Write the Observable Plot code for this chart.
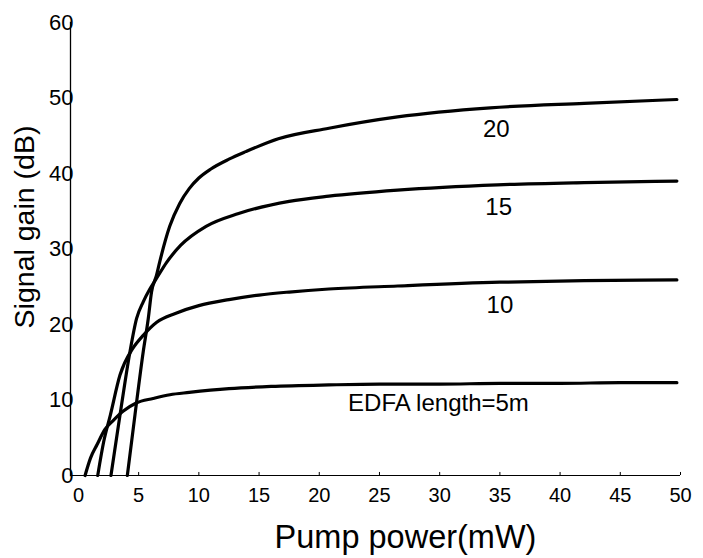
<!DOCTYPE html>
<html><head><meta charset="utf-8">
<script src="https://cdn.jsdelivr.net/npm/d3@7"></script>
<script src="https://cdn.jsdelivr.net/npm/@observablehq/plot@0.6"></script>
<style>body{margin:0;background:#fff}</style>
</head><body><div id="chart"></div>
<script>
// EDFA signal gain vs pump power, for four fibre lengths (m)
const lengths = [5, 10, 15, 20];

const pump5  = [0.55, 1.0, 1.55, 2.2, 2.9, 3.7, 4.8, 6.2, 7.6, 9.2, 12.5, 16, 20.8, 25, 30, 35, 40, 45, 49.7];
const gain5  = [0, 2.3, 4.1, 6.1, 7.3, 8.5, 9.6, 10.2, 10.7, 11.0, 11.5, 11.8, 12.0, 12.1, 12.1, 12.2, 12.2, 12.3, 12.3];

const pump10 = [1.6, 2.1, 2.65, 3.45, 4.5, 5.4, 6.5, 8.1, 10, 12.5, 15, 17.5, 20.8, 26.5, 35, 42, 49.7];
const gain10 = [0, 4.5, 8.0, 13.3, 16.8, 18.6, 20.3, 21.5, 22.5, 23.3, 23.9, 24.3, 24.7, 25.1, 25.6, 25.8, 25.9];

const pump15 = [2.7, 3.46, 4.28, 4.83, 5.38, 5.93, 6.48, 7.31, 8.5, 10.6, 13.3, 17.5, 20.8, 26.5, 34.8, 42, 49.7];
const gain15 = [0, 8.1, 16.4, 20.8, 23.0, 24.7, 26.1, 28.2, 30.5, 33.0, 34.7, 36.3, 37.0, 37.8, 38.5, 38.8, 39.0];

const pump20 = [4.06, 4.7, 5.38, 5.8, 6.07, 6.48, 6.75, 7.58, 8.4, 9.2, 10.0, 11.0, 12.5, 13.9, 16.6, 20.8, 26.5, 34.2, 42, 49.7];
const gain20 = [0, 8.1, 16.4, 20.8, 24.3, 26.5, 28.3, 33.0, 36.0, 38.0, 39.4, 40.6, 41.9, 42.9, 44.6, 46.0, 47.5, 48.7, 49.3, 49.8];

const xTicks = [0, 5, 10, 15, 20, 25, 30, 35, 40, 45, 50];
const yTicks = [0, 10, 20, 30, 40, 50, 60];

// curve annotations
const labelText = ["20", "15", "10", "EDFA length=5m"];
const labelPump = [34.7, 34.9, 35.0, 29.9];
const labelGain = [45.8, 35.5, 22.6, 9.5];

const series = [[pump5, gain5], [pump10, gain10], [pump15, gain15], [pump20, gain20]];
const rows = series.flatMap(([p, g], i) => p.map((v, j) => ({len: lengths[i], pump: v, gain: g[j]})));
const labels = labelText.map((t, i) => ({t, pump: labelPump[i], gain: labelGain[i]}));

const font = "Liberation Sans, Arial, Helvetica, sans-serif";

const chart = Plot.plot({
  width: 703,
  height: 558,
  marginLeft: 70,
  marginRight: 23,
  marginTop: 22,
  marginBottom: 83,
  style: {fontFamily: font, color: "black", background: "white"},
  x: {domain: [-0.66, 50]},
  y: {domain: [0, 60]},
  marks: [
    Plot.frame({anchor: "left", stroke: "black", strokeWidth: 1.3}),
    Plot.ruleY([0], {stroke: "black", strokeWidth: 1.2}),
    Plot.ruleX(xTicks.slice(1), {x: d => d, y1: 0, y2: 0.4, stroke: "black", strokeWidth: 1}),
    Plot.axisY({ticks: yTicks, tickSize: 0, tickPadding: -3, fontSize: 22, fill: "black", label: null}),
    Plot.axisX({ticks: xTicks, tickSize: 0, tickPadding: 12, fontSize: 20, fill: "black", label: null}),
    Plot.line(rows, {x: "pump", y: "gain", z: "len", curve: "monotone-x", stroke: "black", strokeWidth: 3.2, strokeLinecap: "round", strokeLinejoin: "round"}),
    Plot.text(labels, {x: "pump", y: "gain", text: "t", fontSize: 24, fill: "black"}),
    Plot.text(["Signal gain (dB)"], {frameAnchor: "left", textAnchor: "middle", lineAnchor: "middle", rotate: -90, dx: -46, dy: -22, fontSize: 28.5, fill: "black"}),
    Plot.text(["Pump power(mW)"], {frameAnchor: "bottom", textAnchor: "middle", lineAnchor: "middle", dx: 30, dy: 62, fontSize: 32.5, fill: "black"})
  ]
});
document.getElementById("chart").appendChild(chart);
</script>
</body></html>
